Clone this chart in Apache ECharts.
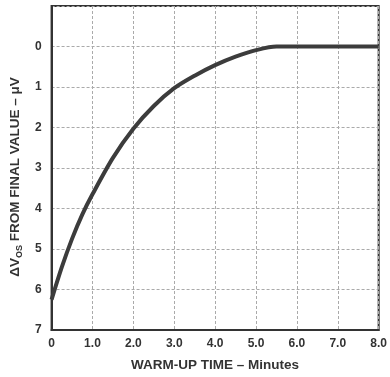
<!DOCTYPE html>
<html>
<head>
<meta charset="utf-8">
<script src="https://cdn.jsdelivr.net/npm/echarts@6/dist/echarts.min.js"></script>
<style>
  html, body { margin: 0; padding: 0; background: #fff; }
  #chart { width: 390px; height: 377px; }
</style>
</head>
<body>
<div id="chart"></div>
<script>
// warm-up time (minutes) and offset drift from final value (uV)
var warmupTime = [0, 0.25, 0.5, 0.75, 1.0, 1.5, 2.0, 2.5, 3.0, 3.5, 4.0, 4.5, 5.0, 5.5, 6.0, 7.0, 8.0];
var deltaVos   = [6.25, 5.45, 4.75, 4.15, 3.65, 2.75, 2.03, 1.47, 1.03, 0.72, 0.46, 0.25, 0.09, 0.0, 0.0, 0.0, 0.0];

var xTicks = [0, 1, 2, 3, 4, 5, 6, 7, 8];
var yTicks = [0, 1, 2, 3, 4, 5, 6, 7];

var myChart = echarts.init(document.getElementById('chart'));

var labelFont = {
    color: '#333',
    fontFamily: 'Liberation Sans',
    fontWeight: 'bold',
    fontSize: 12
};
var titleFont = {
    color: '#333',
    fontFamily: 'Liberation Sans',
    fontWeight: 'bold',
    fontSize: 13.5
};

var option = {
    animation: false,
    grid: {
        left: 51, right: 6, top: 6, bottom: 44,
        show: true,
        borderColor: '#333',
        borderWidth: 2
    },
    xAxis: {
        type: 'value',
        min: 0, max: 8, interval: 1,
        name: 'WARM-UP TIME – Minutes',
        nameLocation: 'middle',
        nameGap: 28,
        nameTextStyle: titleFont,
        axisLine: { show: true, onZero: false, lineStyle: { color: '#333', width: 2 } },
        axisTick: { show: false },
        axisLabel: Object.assign({
            margin: 8,
            formatter: function (v) {
                if (xTicks.indexOf(v) < 0) return '';
                return v === 0 ? '0' : v.toFixed(1);
            }
        }, labelFont),
        splitLine: { show: true, lineStyle: { color: '#aaa', type: [3, 2], width: 1 } }
    },
    yAxis: {
        type: 'value',
        inverse: true,
        min: -1, max: 7, interval: 1,
        name: '{a|ΔV}{s|OS}{a| FROM FINAL VALUE – μV}',
        nameLocation: 'middle',
        nameGap: 27,
        nameRotate: 90,
        nameTextStyle: {
            padding: [0, 18, 0, 0],
            rich: {
                a: titleFont,
                s: { color: '#333', fontFamily: 'Liberation Sans', fontWeight: 'bold', fontSize: 9, padding: [9, 0, 0, 0] }
            }
        },
        axisLine: { show: true, onZero: false, lineStyle: { color: '#333', width: 2 } },
        axisTick: { show: false },
        axisLabel: Object.assign({
            margin: 10,
            formatter: function (v) {
                return yTicks.indexOf(v) < 0 ? '' : String(v);
            }
        }, labelFont),
        splitLine: { show: true, lineStyle: { color: '#aaa', type: [3, 2], width: 1 } }
    },
    series: [{
        type: 'line',
        data: warmupTime.map(function (t, i) { return [t, deltaVos[i]]; }),
        smooth: 0.3,
        showSymbol: false,
        lineStyle: { color: '#3c3c3c', width: 4 }
    }]
};

myChart.setOption(option);
</script>
</body>
</html>
